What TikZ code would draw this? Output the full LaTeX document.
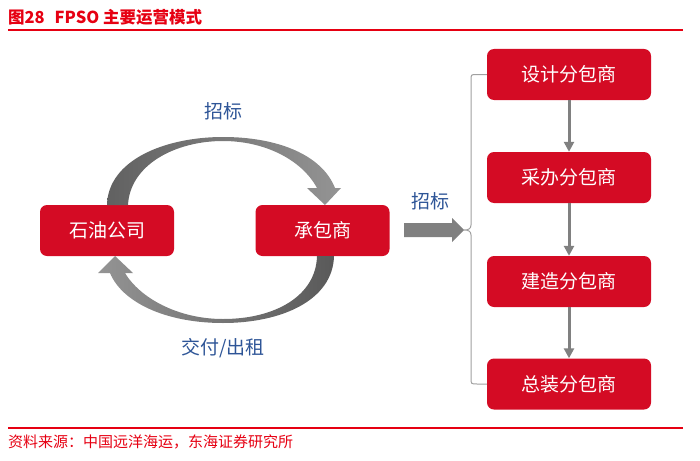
\documentclass[tikz,border=0pt]{standalone}
\usepackage{fontspec}
\setmainfont{Noto Sans CJK SC}
\usetikzlibrary{arrows.meta}
\definecolor{boxred}{HTML}{D40B24}
\definecolor{titlered}{HTML}{E60012}
\definecolor{lblue}{HTML}{2E5597}
\definecolor{agray}{HTML}{808080}
\definecolor{bgray}{HTML}{A0A0A0}
\tikzset{
  redbox/.style={draw=none, fill=boxred, rounded corners=7pt, text=white,
    minimum height=51pt, inner sep=0pt, font=\fontsize{19}{22}\selectfont},
  leftbox/.style={redbox, minimum width=134pt},
  subbox/.style={redbox, minimum width=164pt},
  bluelbl/.style={text=lblue, font=\fontsize{19}{22}\selectfont, inner sep=0pt},
  vflow/.style={agray, line width=3pt, -{Triangle[width=10pt,length=10pt]}},
  bracket/.style={bgray, line width=1pt},
}
\begin{document}
\begin{tikzpicture}[x=1pt,y=-1pt]
\useasboundingbox (0,0) rectangle (700,460);
% title and rules
\node[anchor=west, inner sep=0pt, text=titlered, font=\fontsize{16.5}{19}\selectfont\bfseries] (title) at (8,17) {图28\hspace{0.6em}FPSO 主要运营模式};
\draw[titlered, line width=1.5pt] (8,30) -- (683,30);
\draw[titlered, line width=1.5pt] (8,428) -- (683,428);
\node[anchor=west, inner sep=0pt, text=titlered, font=\fontsize{15}{18}\selectfont] (src) at (8,442) {资料来源：中国远洋海运，东海证券研究所};

% left cycle
\node[leftbox] (oil) at (107,230.5) {石油公司};
\node[leftbox] (con) at (322.5,230.5) {承包商};
\node[bluelbl] (zb1) at (223,111) {招标};
\node[bluelbl] (jf) at (223,348) {交付/出租};

% top curved arrow
\shade[left color=black!62, right color=black!42]
  (107,205) .. controls (108,160) and (165,137) .. (223,137)
  .. controls (278,137) and (322,155) .. (335,188)
  -- (341,188) -- (325,205) -- (307,188) -- (317,188)
  .. controls (302,160) and (265,141) .. (223,141)
  .. controls (175,141) and (130,165) .. (128,205) -- cycle;
% bottom curved arrow
\shade[left color=black!42, right color=black!65]
  (334,256) .. controls (333,300) and (282,323) .. (223,323)
  .. controls (165,323) and (122,302) .. (110,273)
  -- (98,273) -- (115,256) -- (133,273) -- (125,273)
  .. controls (140,298) and (178,319) .. (223,319)
  .. controls (275,319) and (316,296) .. (317,256) -- cycle;

% right column
\node[subbox] (s1) at (569,74.5) {设计分包商};
\node[subbox] (s2) at (569,177.5) {采办分包商};
\node[subbox] (s3) at (569,281.5) {建造分包商};
\node[subbox] (s4) at (569,384) {总装分包商};
\draw[vflow] (s1.south) -- (s2.north);
\draw[vflow] (s2.south) -- (s3.north);
\draw[vflow] (s3.south) -- (s4.north);

% bracket
\coordinate (brtip) at (464,230);
\draw[bracket] (s1.west) -- (477,74.5) .. controls (471,74.5) .. (471,80)
  -- (471,225) .. controls (471,229) and (468,230) .. (brtip)
  .. controls (468,230) and (471,231) .. (471,235)
  -- (471,378) .. controls (471,384) .. (477,384) -- (s4.west);

% big arrow
\fill[agray] (404,223) -- (452,223) -- (452,218) -- (brtip) -- (452,242) -- (452,237) -- (404,237) -- cycle;
\node[bluelbl] (zb2) at (430,201) {招标};
\end{tikzpicture}
\end{document}
